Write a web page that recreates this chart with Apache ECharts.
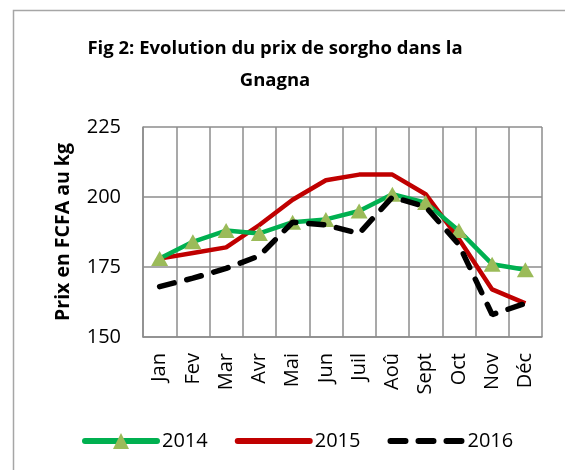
<!DOCTYPE html>
<html><head><meta charset="utf-8">
<script src="https://cdn.jsdelivr.net/npm/echarts@6/dist/echarts.min.js"></script>
<style>html,body{margin:0;padding:0;background:#fff}#c{width:565px;height:470px}</style>
</head><body><div id="c"></div>
<script>
const months = ['Jan','Fev','Mar','Avr','Mai','Jun','Juil','Aoû','Sept','Oct','Nov','Déc'];
const s2014 = [178,184,188,187,191,192,195,201,198,188,176,174];
const s2015 = [178,180,182,190,199,206,208,208,201,185,167,162];
const s2016 = [168,171,174.5,179,191,190,187,200,196.5,183,158,162];
const yTicks = [150,175,200,225];

const chart = echarts.init(document.getElementById('c'), null, {renderer:'canvas'});
const F = '"Open Sans", sans-serif';
chart.setOption({
  animation:false,
  graphic:[{type:'rect',shape:{x:13.5,y:10.5,width:600,height:600},style:{fill:'none',stroke:'#a6a6a6',lineWidth:1.5},silent:true}],
  title:{text:'Fig 2: Evolution du prix de sorgho dans la\nGnagna',left:270,top:28,textAlign:'center',
    textStyle:{fontFamily:F,fontWeight:'bold',fontSize:18.5,lineHeight:32,color:'#000'}},
  grid:{left:143,right:23,top:127,bottom:133,containLabel:false},
  legend:{left:77,top:426,itemWidth:72,itemHeight:20,itemGap:27,
    textStyle:{fontFamily:F,fontSize:20,color:'#000'},
    data:[
      {name:'2014',lineStyle:{width:6,cap:'round'}},
      {name:'2015',lineStyle:{width:6,cap:'round'},itemStyle:{opacity:0}},
      {name:'2016',lineStyle:{width:6,cap:'round',type:[15,13]},itemStyle:{opacity:0}}
    ]},
  xAxis:{type:'category',data:months,boundaryGap:true,
    axisLine:{lineStyle:{color:'#8c8c8c',width:1.5}},axisTick:{show:false},
    splitLine:{show:true,lineStyle:{color:'#8c8c8c',width:1.5}},
    axisLabel:{rotate:90,interval:0,margin:16,fontFamily:F,fontSize:20,color:'#000'}},
  yAxis:{type:'value',min:150,max:225,interval:25,
    name:'Prix en FCFA au kg',nameLocation:'middle',nameGap:70,
    nameTextStyle:{fontFamily:F,fontWeight:'bold',fontSize:19.5,color:'#000'},
    axisLine:{show:true,lineStyle:{color:'#8c8c8c',width:1.5}},axisTick:{show:false},
    splitLine:{lineStyle:{color:'#8c8c8c',width:1.5}},
    axisLabel:{margin:22,fontFamily:F,fontSize:20,color:'#000',
      formatter:v=>yTicks.includes(v)?String(v):''}},
  series:[
    {name:'2014',type:'line',data:s2014,symbol:'triangle',symbolSize:[17,15],
     itemStyle:{color:'#9bbb59'},lineStyle:{color:'#00b050',width:4.5},z:3},
    {name:'2015',type:'line',data:s2015,symbol:'none',
     itemStyle:{color:'#c00000'},lineStyle:{color:'#c00000',width:4.5},z:2},
    {name:'2016',type:'line',data:s2016,symbol:'none',
     itemStyle:{color:'#000'},lineStyle:{color:'#000',width:5.5,type:[15,13],cap:'round'},z:4}
  ]
});
</script></body></html>
